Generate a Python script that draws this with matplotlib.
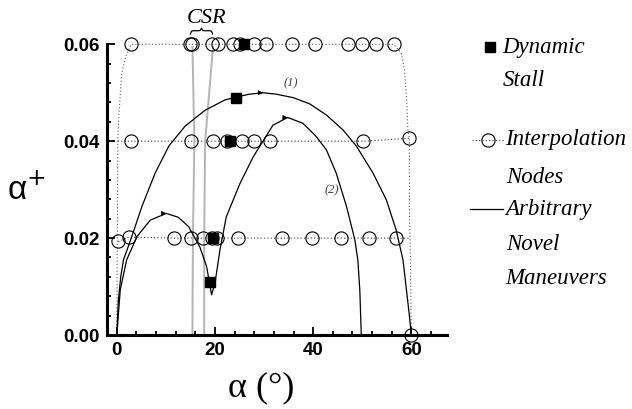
import matplotlib
matplotlib.use("Agg")
import matplotlib.pyplot as plt
from matplotlib.lines import Line2D
from matplotlib.patches import PathPatch
from matplotlib.path import Path
from matplotlib.ticker import MultipleLocator

# interpolation nodes, one list per alpha+ level
row06_x = [2.9, 14.9, 15.4, 19.3, 20.7, 23.7, 25.0, 28.0, 30.4, 35.7, 40.3, 47.1, 49.9, 52.9, 56.4]
row04_x = [2.9, 15.2, 19.6, 22.4, 25.4, 27.9, 31.3, 50.2, 59.6]
row04_y = [0.04, 0.04, 0.04, 0.04, 0.04, 0.04, 0.04, 0.04, 0.0406]
row02_x = [0.3, 2.4, 11.7, 15.2, 17.5, 19.3, 20.5, 24.7, 33.7, 39.8, 45.6, 51.3, 56.8]
row02_y = [0.0193, 0.0202, 0.02, 0.02, 0.02, 0.02, 0.02, 0.02, 0.02, 0.02, 0.02, 0.02, 0.02]
end_node = (60.0, 0.0)

# dotted envelope of the sampled region
env_left_x = [0.0, 0.1, 0.2, 0.33, 0.67, 1.0, 1.8, 2.9]
env_left_y = [0.0, 0.02, 0.0396, 0.0437, 0.0492, 0.054, 0.0574, 0.06]
env_right_x = [56.4, 58.0, 58.6, 59.0, 59.3, 59.6, 59.6, 59.8, 60.0]
env_right_y = [0.06, 0.0581, 0.0547, 0.0492, 0.0423, 0.0406, 0.0265, 0.0159, 0.0]

# dynamic stall points
stall_x = [26.0, 24.3, 23.0, 19.6, 19.0]
stall_y = [0.06, 0.0489, 0.040, 0.0201, 0.0109]

# maneuver (1)
m1_x = [0.0, 0.3, 0.8, 1.35, 3.05, 5.1, 7.8, 10.6, 13.9, 18.0, 22.0, 24.3, 27.0, 29.8, 32.5,
        35.9, 39.3, 42.7, 46.1, 48.8, 52.2, 54.9, 56.9, 58.3, 59.0, 59.6, 60.0]
m1_y = [0.0, 0.007, 0.012, 0.0155, 0.0203, 0.0265, 0.0334, 0.039, 0.0431, 0.0464, 0.0485, 0.0491,
        0.0497, 0.0500, 0.0497, 0.049, 0.0477, 0.0454, 0.0423, 0.039, 0.0334, 0.0279, 0.0217,
        0.0155, 0.0093, 0.004, 0.0]

# maneuver (2)
m2_x = [0.0, 0.7, 2.0, 4.1, 6.8, 10.1, 12.5, 14.6, 16.9, 18.3, 19.3,
        20.0, 21.0, 22.3, 25.1, 27.8, 31.8, 34.8, 37.9, 40.6, 42.7, 44.7, 46.8, 48.5, 49.1, 49.5, 49.8]
m2_y = [0.0, 0.0093, 0.0155, 0.0203, 0.0237, 0.0251, 0.0243, 0.0224, 0.0182, 0.0141, 0.0083,
        0.0107, 0.0175, 0.0244, 0.0313, 0.0368, 0.0433, 0.0449, 0.0437, 0.041, 0.0382, 0.0334,
        0.0265, 0.0196, 0.0155, 0.0093, 0.0]

# arrow heads along the maneuvers
arrow_x = [29.8, 10.1, 34.8]
arrow_y = [0.0500, 0.0251, 0.0449]

# CSR boundaries
csr1_x = [15.4, 15.8, 15.5, 15.4]
csr1_y = [0.0595, 0.04, 0.02, 0.0]
csr2_x = [19.6, 18.0, 17.8, 17.8]
csr2_y = [0.0595, 0.04, 0.02, 0.0]
brace_x = [15.0, 19.5]

SANS = 'Liberation Sans'
SERIF = 'Liberation Serif'

fig = plt.figure(figsize=(6.32, 4.09), dpi=100)
ax = fig.add_axes([0.1693, 0.1809, 0.5375, 0.7108])

dot = (0, (1, 2))
ax.plot(env_left_x + row06_x + env_right_x, env_left_y + [0.06] * len(row06_x) + env_right_y,
        color='0.35', lw=0.8, ls=dot, clip_on=False)
ax.plot([env_left_x[2]] + row04_x, [0.04] + row04_y, color='0.2', lw=0.8, ls=dot)
ax.plot(row02_x + [59.7], row02_y + [0.02], color='0.2', lw=0.8, ls=dot)

node_style = dict(ls='none', marker='o', ms=9.5, mfc='none', mec='k', mew=0.8, clip_on=False, zorder=4)
ax.plot(row06_x, [0.06] * len(row06_x), **node_style)
ax.plot(row04_x, row04_y, **node_style)
ax.plot(row02_x, row02_y, **node_style)
ax.plot([end_node[0]], [end_node[1]], **node_style)

ax.plot(csr1_x, csr1_y, color='#b4b4b4', lw=1.4, zorder=2)
ax.plot(csr2_x, csr2_y, color='#b4b4b4', lw=1.4, zorder=2)

ax.plot(m1_x, m1_y, color='k', lw=0.9, zorder=3)
ax.plot(m2_x, m2_y, color='k', lw=0.9, zorder=3)
for xa, ya in zip(arrow_x, arrow_y):
    ax.annotate('', xy=(xa, ya), xytext=(xa - 0.6, ya),
                arrowprops=dict(arrowstyle='-|>', color='k', lw=0.6, mutation_scale=7,
                                shrinkA=0, shrinkB=0))

ax.plot(stall_x, stall_y, ls='none', marker='s', ms=7, color='k', clip_on=False, zorder=5)

ax.text(35.5, 0.0519, '(1)', family=SERIF, style='italic', fontsize=9, color='0.25',
        ha='center', va='center')
ax.text(43.7, 0.0299, '(2)', family=SERIF, style='italic', fontsize=9, color='0.25',
        ha='center', va='center')

# brace above the CSR band
x0, x1 = brace_x
xc = (x0 + x1) / 2
yb, yl, yt = 0.0620, 0.0628, 0.0634
q = 0.6
verts = [(x0, yb), (x0, yl), (x0 + q, yl), (xc - q, yl), (xc, yl), (xc, yt),
         (xc, yl), (xc + q, yl), (x1 - q, yl), (x1, yl), (x1, yb)]
codes = [Path.MOVETO, Path.CURVE3, Path.CURVE3, Path.LINETO, Path.CURVE3, Path.CURVE3,
         Path.CURVE3, Path.CURVE3, Path.LINETO, Path.CURVE3, Path.CURVE3]
ax.add_patch(PathPatch(Path(verts, codes), fill=False, lw=0.9, ec='k', clip_on=False))
ax.text(xc + 1.1, 0.0653, 'CSR', family=SERIF, style='italic', fontsize=16,
        ha='center', va='center')

ax.set_xlim(-2, 67.2)
ax.set_ylim(0, 0.06)
ax.xaxis.set_major_locator(MultipleLocator(20))
ax.xaxis.set_minor_locator(MultipleLocator(4))
ax.yaxis.set_major_locator(MultipleLocator(0.02))
ax.yaxis.set_minor_locator(MultipleLocator(0.004))
ax.yaxis.set_major_formatter(matplotlib.ticker.FormatStrFormatter('%.2f'))
for s in ['top', 'right']:
    ax.spines[s].set_visible(False)
for s in ['left', 'bottom']:
    ax.spines[s].set_linewidth(2.2)
ax.tick_params(which='both', direction='in', width=1.3)
ax.tick_params(which='major', length=6)
ax.tick_params(which='minor', length=3)
ax.tick_params(axis='x', which='major', pad=5)
ax.tick_params(axis='y', which='major', pad=5)
for lab in ax.get_xticklabels() + ax.get_yticklabels():
    lab.set_fontfamily(SANS)
    lab.set_fontweight('bold')
    lab.set_fontsize(13.5)

fig.text(261 / 632, 1 - 388 / 409, 'α (°)', family=SERIF, fontsize=26, ha='center', va='center')
fig.text(26 / 632, 1 - 190 / 409, 'α$^{+}$', family=SANS, fontsize=24, ha='center', va='center')

# legend, drawn by hand
def fx(px):
    return px / 632


def fy(py):
    return 1 - py / 409


leg_font = dict(family=SERIF, style='italic', fontsize=16.5, va='center', ha='left')
fig.add_artist(Line2D([fx(490)], [fy(47)], marker='s', ms=7, color='k', ls='none'))
fig.text(fx(502), fy(47), 'Dynamic', **leg_font)
fig.text(fx(503), fy(81), 'Stall', **leg_font)
fig.add_artist(Line2D([fx(472), fx(504)], [fy(140), fy(140)], color='0.2', lw=0.8, ls=dot))
fig.add_artist(Line2D([fx(488)], [fy(140)], marker='o', ms=9.5, mfc='none', mec='k', mew=0.8, ls='none'))
fig.text(fx(505), fy(139), 'Interpolation', **leg_font)
fig.text(fx(506), fy(177), 'Nodes', **leg_font)
fig.add_artist(Line2D([fx(470), fx(503)], [fy(209), fy(209)], color='k', lw=0.9))
fig.text(fx(505), fy(209), 'Arbitrary', **leg_font)
fig.text(fx(506), fy(244), 'Novel', **leg_font)
fig.text(fx(505), fy(279), 'Maneuvers', **leg_font)

fig.savefig('out.png', dpi=100)
